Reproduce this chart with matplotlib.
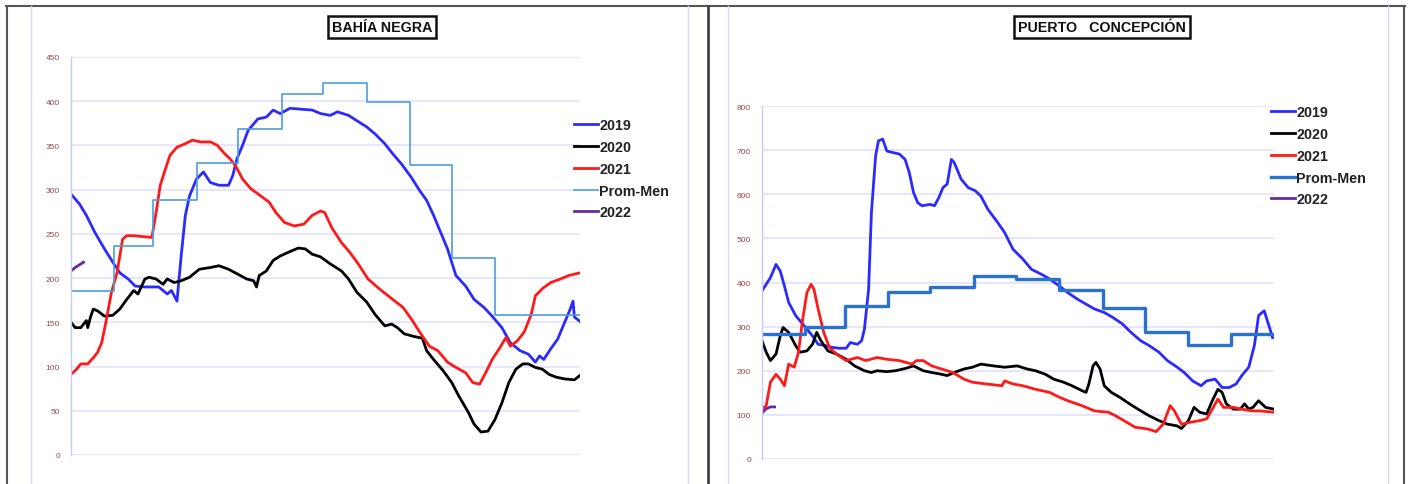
import matplotlib
matplotlib.use("Agg")
import matplotlib.pyplot as plt
from matplotlib.lines import Line2D

plt.rcParams['font.family'] = ['Liberation Sans', 'DejaVu Sans']

# ---- data (day of year, value) ----
month_edges = [0, 31, 59, 90, 120, 151, 181, 212, 243, 273, 304, 334, 365]

# Bahía Negra
bn_d2019 = [0, 6, 11, 17, 24, 30, 35, 41, 46, 53, 63, 69, 72, 76, 79, 82, 85, 90, 95, 100,
            106, 113, 116, 119, 123, 127, 134, 140, 145, 150, 157, 165, 173, 179, 186, 191,
            199, 205, 212, 218, 225, 231, 237, 244, 250, 255, 260, 265, 270, 276, 283, 289,
            296, 302, 309, 315, 322, 328, 333, 336, 339, 344, 349, 354, 358, 360, 361, 365]
bn_2019 = [295, 284, 271, 252, 233, 218, 206, 199, 191, 190, 190, 182, 186, 174, 225, 271, 293,
           312, 320, 308, 305, 305, 316, 335, 350, 367, 380, 382, 390, 386, 392, 391, 390, 386,
           384, 388, 384, 378, 371, 363, 352, 340, 329, 314, 299, 288, 271, 252, 233, 203, 191,
           176, 167, 157, 144, 127, 118, 114, 105, 112, 108, 120, 131, 150, 165, 174, 156, 151]

bn_d2020 = [0, 3, 7, 11, 12, 14, 16, 19, 24, 30, 35, 40, 45, 48, 53, 56, 61, 66, 69, 74, 79,
            85, 92, 100, 106, 113, 119, 126, 131, 133, 135, 140, 145, 150, 157, 163, 168, 173,
            179, 186, 194, 199, 205, 212, 218, 225, 230, 234, 239, 246, 252, 255, 260, 267, 273,
            278, 285, 289, 294, 299, 304, 309, 314, 319, 324, 328, 333, 338, 343, 348, 354, 361, 365]
bn_2020 = [150, 144, 144, 152, 144, 156, 165, 163, 157, 158, 165, 176, 186, 182, 199, 201, 199,
           193, 199, 195, 197, 201, 210, 212, 214, 210, 205, 199, 197, 190, 203, 208, 220, 225,
           230, 234, 233, 227, 224, 216, 208, 199, 184, 173, 159, 146, 148, 144, 137, 134, 132,
           118, 108, 95, 82, 67, 48, 35, 26, 27, 40, 59, 82, 97, 103, 103, 99, 97, 91, 88, 86, 85, 90]

bn_d2021 = [0, 4, 7, 12, 16, 19, 22, 25, 29, 33, 37, 40, 45, 51, 58, 61, 64, 67, 71, 76, 82,
            87, 93, 100, 105, 110, 114, 118, 123, 129, 136, 142, 147, 153, 160, 167, 173, 179,
            182, 187, 194, 200, 206, 213, 221, 229, 238, 244, 250, 257, 263, 270, 276, 283, 288,
            293, 298, 302, 307, 312, 315, 320, 325, 330, 333, 338, 344, 351, 357, 365]
bn_2021 = [91, 97, 103, 103, 110, 116, 127, 150, 184, 206, 244, 248, 248, 247, 246, 274, 305,
           320, 339, 348, 352, 356, 354, 354, 350, 341, 335, 327, 312, 301, 293, 286, 274, 263,
           259, 261, 271, 276, 274, 257, 240, 229, 216, 199, 188, 178, 167, 154, 139, 123, 118,
           105, 99, 93, 82, 80, 95, 108, 120, 133, 123, 129, 139, 159, 180, 188, 195, 199, 203, 206]

bn_d2022 = [0, 3, 6, 9]
bn_2022 = [208, 212, 215, 218]

bn_prom = [185, 236, 288, 330, 369, 408, 421, 399, 328, 223, 158, 158]

# Puerto Concepción
pc_d2019 = [0, 3, 6, 10, 13, 16, 19, 24, 29, 36, 40, 45, 50, 55, 60, 63, 68, 71, 73, 76, 78,
            81, 83, 86, 89, 94, 98, 102, 105, 108, 111, 114, 120, 123, 126, 129, 132, 135, 137,
            142, 147, 152, 156, 161, 168, 173, 179, 186, 192, 199, 205, 212, 218, 225, 231, 237,
            244, 250, 257, 263, 270, 276, 283, 289, 296, 301, 307, 313, 317, 323, 328, 333, 338,
            342, 347, 351, 354, 358, 361, 364]
pc_2019 = [381, 396, 411, 441, 426, 392, 355, 325, 306, 279, 260, 257, 253, 251, 251, 264, 260,
           268, 294, 385, 558, 687, 721, 725, 698, 694, 691, 679, 649, 604, 581, 574, 577, 574,
           592, 615, 623, 679, 672, 634, 615, 608, 596, 566, 536, 513, 475, 453, 430, 419, 408,
           392, 377, 362, 351, 340, 332, 321, 306, 287, 268, 257, 242, 223, 208, 196, 177, 166,
           177, 181, 162, 162, 170, 189, 208, 257, 325, 336, 306, 275]

pc_d2020 = [0, 3, 6, 10, 13, 15, 19, 24, 27, 32, 36, 39, 42, 47, 53, 60, 66, 73, 78, 82, 89,
            95, 102, 108, 115, 121, 128, 132, 137, 144, 150, 156, 165, 173, 182, 189, 195, 202,
            208, 215, 221, 228, 231, 233, 236, 238, 241, 244, 249, 255, 262, 268, 276, 283, 289,
            296, 299, 304, 308, 312, 317, 321, 325, 328, 331, 336, 341, 344, 347, 350, 354, 359, 365]
pc_2020 = [268, 242, 223, 238, 279, 298, 287, 257, 242, 245, 260, 287, 268, 245, 238, 226, 211,
           200, 196, 200, 198, 200, 205, 211, 200, 196, 192, 189, 196, 204, 208, 215, 211, 208,
           211, 204, 200, 192, 181, 174, 166, 155, 151, 170, 211, 219, 204, 166, 151, 140, 125,
           113, 98, 87, 79, 75, 69, 87, 117, 106, 102, 132, 158, 151, 125, 113, 113, 125, 113,
           117, 132, 117, 113]

pc_d2021 = [0, 3, 6, 10, 13, 16, 19, 23, 26, 29, 32, 35, 37, 40, 44, 48, 53, 60, 68, 74, 82,
            89, 98, 107, 110, 115, 121, 128, 136, 144, 150, 160, 171, 173, 179, 186, 195, 205,
            212, 218, 228, 237, 247, 252, 258, 266, 275, 281, 286, 291, 294, 299, 305, 312, 317,
            321, 325, 329, 336, 342, 349, 355, 365]
pc_2021 = [113, 121, 174, 192, 181, 166, 215, 208, 242, 317, 377, 396, 385, 340, 287, 253, 238,
           223, 230, 223, 230, 226, 223, 215, 223, 223, 211, 204, 196, 181, 174, 170, 166, 177,
           170, 166, 158, 151, 140, 132, 121, 109, 106, 98, 87, 72, 68, 62, 79, 121, 109, 79, 83,
           87, 91, 113, 136, 117, 117, 113, 109, 109, 106]

pc_d2022 = [0, 3, 6, 9]
pc_2022 = [104, 114, 118, 118]

pc_prom = [283, 300, 347, 379, 389, 414, 409, 383, 343, 287, 258, 283]

labels = ['2019', '2020', '2021', 'Prom-Men', '2022']

W, H = 1411, 485
fig = plt.figure(figsize=(W / 100, H / 100), dpi=100)
fig.patch.set_facecolor('white')


def fx(px):
    return px / W


def fy(py):
    return 1 - py / H


def panel(rect, ymax, ystep, series, prom, prom_color, prom_lw):
    ax = fig.add_axes(rect)
    for s in ['top', 'right', 'bottom']:
        ax.spines[s].set_visible(False)
    ax.spines['left'].set_color('#c8c8ff')
    ax.spines['left'].set_linewidth(1.0)
    ax.set_xlim(0, 365)
    ax.set_ylim(0, ymax)
    ax.set_yticks(range(0, ymax + 1, ystep))
    ax.set_xticks([])
    ax.tick_params(axis='y', length=0, pad=8, labelsize=6, labelcolor='#9a4a4a')
    for v in range(0, ymax + 1, ystep):
        ax.axhline(v, color='#e2e2ff', lw=1.2, zorder=0)
    (d19, v19), (d20, v20), (d21, v21), (d22, v22) = series
    h1, = ax.plot(d19, v19, color='#2b2bff', lw=2.0)
    h2, = ax.plot(d20, v20, color='black', lw=2.0)
    h3, = ax.plot(d21, v21, color='#ff1a1a', lw=2.0)
    h4, = ax.step(month_edges, prom + [prom[-1]], where='post', color=prom_color, lw=prom_lw)
    h5, = ax.plot(d22, v22, color='#6a2a9e', lw=2.0)
    return ax, [h1, h2, h3, h4, h5]


ax1, hs1 = panel([fx(71), fy(456), fx(580 - 71), fy(58) - fy(456)], 450, 50,
                 [(bn_d2019, bn_2019), (bn_d2020, bn_2020), (bn_d2021, bn_2021), (bn_d2022, bn_2022)],
                 bn_prom, '#4a9ee0', 1.2)
ax2, hs2 = panel([fx(762), fy(460), fx(1274 - 762), fy(107) - fy(460)], 800, 100,
                 [(pc_d2019, pc_2019), (pc_d2020, pc_2020), (pc_d2021, pc_2021), (pc_d2022, pc_2022)],
                 pc_prom, '#2a72d0', 2.4)

for hs, x0, y0 in [(hs1, 574, 119), (hs2, 1271, 106)]:
    fig.legend(hs, labels, loc='upper left', bbox_to_anchor=(fx(x0), fy(y0)), frameon=False,
               prop={'weight': 'bold', 'size': 10.3}, handlelength=1.7, handletextpad=0.05,
               labelspacing=0.55, borderpad=0, borderaxespad=0, labelcolor='#222222')

# boxed titles
for txt, cx in [('BAHÍA NEGRA', 382), ('PUERTO   CONCEPCIÓN', 1102)]:
    fig.text(fx(cx), fy(28), txt, ha='center', va='center', fontsize=10.3, fontweight='bold',
             color='#111111',
             bbox=dict(boxstyle='square,pad=0.3', facecolor='white', edgecolor='#111111', lw=1.8))

# page frame lines
frame = [((6, 1405), (7, 7), '#555555', 1.5),
         ((7, 7), (7, 485), '#555555', 1.5),
         ((708, 708), (7, 485), '#444444', 2.0),
         ((1404, 1404), (7, 485), '#555555', 1.5),
         ((31, 31), (7, 485), '#d8d8ff', 1.0),
         ((688, 688), (7, 485), '#d8d8ff', 1.0),
         ((728, 728), (7, 485), '#d8d8ff', 1.0),
         ((1388, 1388), (7, 485), '#d8d8ff', 1.0)]
for xs, ys, c, lw in frame:
    fig.add_artist(Line2D([fx(x) for x in xs], [fy(y) for y in ys], color=c, lw=lw))

fig.savefig('out.png', dpi=100)
